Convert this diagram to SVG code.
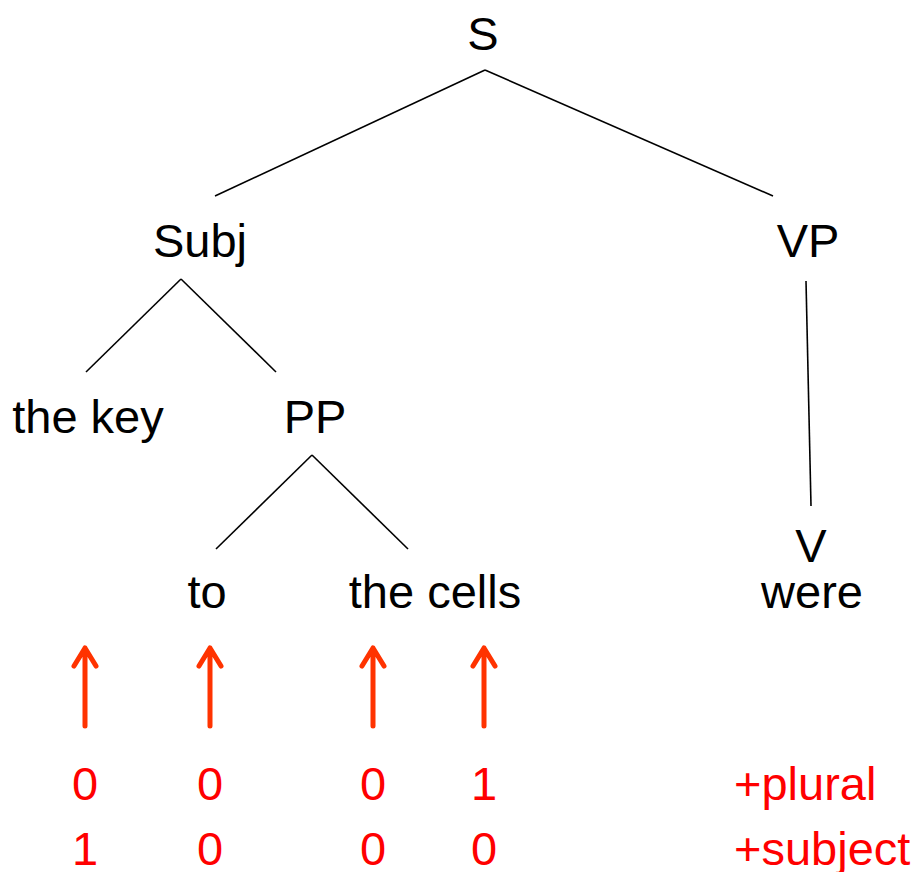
<svg xmlns="http://www.w3.org/2000/svg" width="924" height="872" viewBox="0 0 924 872">
<defs>
<style>
.t{font-family:"Liberation Sans",Arial,sans-serif;font-size:47px;fill:#000;text-anchor:middle}
.r{font-family:"Liberation Sans",Arial,sans-serif;font-size:47px;fill:#ff0000;text-anchor:middle}
.l{text-anchor:start}
.e{stroke:#000;stroke-width:1.6;fill:none}
.a{stroke:#ff3300;stroke-width:5;fill:none;stroke-linecap:round;stroke-linejoin:round}
</style>
</defs>
<rect width="924" height="872" fill="#fff"/>
<g id="connectors">
<line class="e" x1="485" y1="70" x2="215" y2="196"/>
<line class="e" x1="485" y1="70" x2="773" y2="196"/>
<line class="e" x1="181" y1="279" x2="86" y2="372"/>
<line class="e" x1="181" y1="279" x2="276" y2="372"/>
<line class="e" x1="806" y1="281" x2="811" y2="506"/>
<line class="e" x1="312" y1="455" x2="216" y2="549"/>
<line class="e" x1="312" y1="455" x2="408" y2="549"/>
</g>
<g id="node-S"><text class="t" x="483" y="50">S</text></g>
<g id="node-Subj"><text class="t" x="200" y="257">Subj</text></g>
<g id="node-VP"><text class="t" x="808" y="257">VP</text></g>
<g id="node-thekey"><text class="t" x="88" y="433">the key</text></g>
<g id="node-PP"><text class="t" x="315" y="433">PP</text></g>
<g id="node-to"><text class="t" x="207" y="608">to</text></g>
<g id="node-thecells"><text class="t" x="435" y="608">the cells</text></g>
<g id="node-V"><text class="t" x="811" y="562">V</text><text class="t" x="812" y="608">were</text></g>
<g id="arrows">
<path class="a" d="M85 726V648M74 666L85 648L96 666"/>
<path class="a" d="M210 726V648M199 666L210 648L221 666"/>
<path class="a" d="M373 726V648M362 666L373 648L384 666"/>
<path class="a" d="M484 726V648M473 666L484 648L495 666"/>
</g>
<g id="features">
<text class="r" x="85" y="800">0</text>
<text class="r" x="210" y="800">0</text>
<text class="r" x="373" y="800">0</text>
<text class="r" x="484" y="800">1</text>
<text class="r l" x="734" y="800">+plural</text>
<text class="r" x="85" y="865">1</text>
<text class="r" x="210" y="865">0</text>
<text class="r" x="373" y="865">0</text>
<text class="r" x="484" y="865">0</text>
<text class="r l" x="734" y="865">+subject</text>
</g>
</svg>
